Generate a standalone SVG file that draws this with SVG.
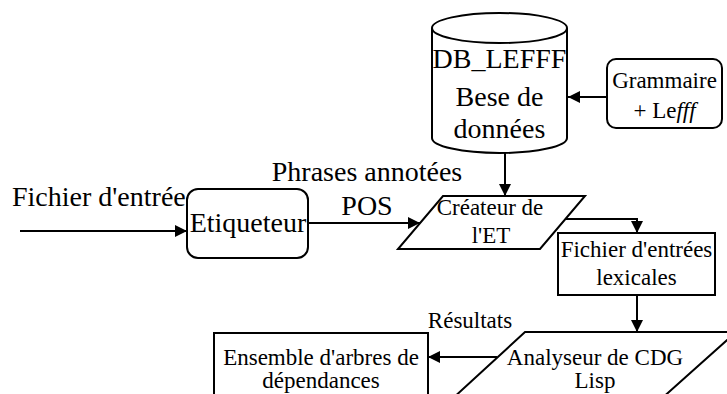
<svg xmlns="http://www.w3.org/2000/svg" width="727" height="394" viewBox="0 0 727 394">
<style>
.s{fill:#fff;stroke:#000;stroke-width:2}
.c{fill:none;stroke:#000;stroke-width:2}
text{font-family:"Liberation Serif","Times New Roman",serif;fill:#000}
.L{font-size:28px}
.M{font-size:23px}
.m{text-anchor:middle}
</style>
<defs>
<marker id="ah" markerUnits="userSpaceOnUse" markerWidth="14" markerHeight="14" viewBox="0 0 14 14" refX="13" refY="7" orient="auto">
<path d="M1,1 L13,7 L1,13 Z" fill="#000"/>
</marker>
</defs>
<rect width="727" height="394" fill="#fff"/>
<g id="connectors">
<line class="c" x1="20" y1="231" x2="187" y2="231" marker-end="url(#ah)"/>
<line class="c" x1="308" y1="223" x2="420" y2="223" marker-end="url(#ah)"/>
<line class="c" x1="607" y1="97" x2="568" y2="97" marker-end="url(#ah)"/>
<line class="c" x1="505" y1="153" x2="505" y2="196" marker-end="url(#ah)"/>
<polyline class="c" points="566,219 637,219 637,233" marker-end="url(#ah)"/>
<line class="c" x1="637" y1="295" x2="637" y2="332" marker-end="url(#ah)"/>
<line class="c" x1="497" y1="357" x2="428" y2="357" marker-end="url(#ah)"/>
</g>
<g id="labels">
<text class="L" x="12" y="206">Fichier d'entrée</text>
<text class="L m" x="367" y="181">Phrases annotées</text>
<text class="L m" x="367" y="215">POS</text>
<text class="M m" x="470" y="328">Résultats</text>
</g>
<g id="db">
<path class="s" d="M432,28 L432,138 A67.5,15 0 0 0 567,138 L567,28"/>
<ellipse class="s" cx="499.5" cy="28" rx="67.5" ry="15"/>
<text class="L m" x="499.5" y="68">DB_LEFFF</text>
<text class="L m" x="499.5" y="106">Bese de</text>
<text class="L m" x="499.5" y="138">données</text>
</g>
<g id="grammaire">
<rect class="s" x="607" y="59" width="115" height="69" rx="9"/>
<text class="M m" x="664.5" y="88">Grammaire</text>
<text class="M m" x="664.5" y="118">+ Le<tspan font-style="italic">fff</tspan></text>
</g>
<g id="etiqueteur">
<rect class="s" x="187" y="189" width="121" height="69" rx="11"/>
<text class="L m" x="248" y="232">Etiqueteur</text>
</g>
<g id="createur">
<polygon class="s" points="443,196 585,196 540,249 398,249"/>
<text class="M m" x="490" y="215" font-size="22">Créateur de</text>
<text class="M m" x="491" y="243" font-size="22">l'ET</text>
</g>
<g id="fichier">
<rect class="s" x="558" y="233" width="157" height="62"/>
<text class="M m" x="636.5" y="257">Fichier d'entrées</text>
<text class="M m" x="636.5" y="285">lexicales</text>
</g>
<g id="analyseur">
<polygon class="s" points="525,332 736,332 660,400 451,400"/>
<text class="M m" x="595" y="365">Analyseur de CDG</text>
<text class="M m" x="595" y="388">Lisp</text>
</g>
<g id="ensemble">
<rect class="s" x="214" y="333" width="214" height="70"/>
<text class="M m" x="321" y="365">Ensemble d'arbres de</text>
<text class="M m" x="321" y="388">dépendances</text>
</g>
</svg>
